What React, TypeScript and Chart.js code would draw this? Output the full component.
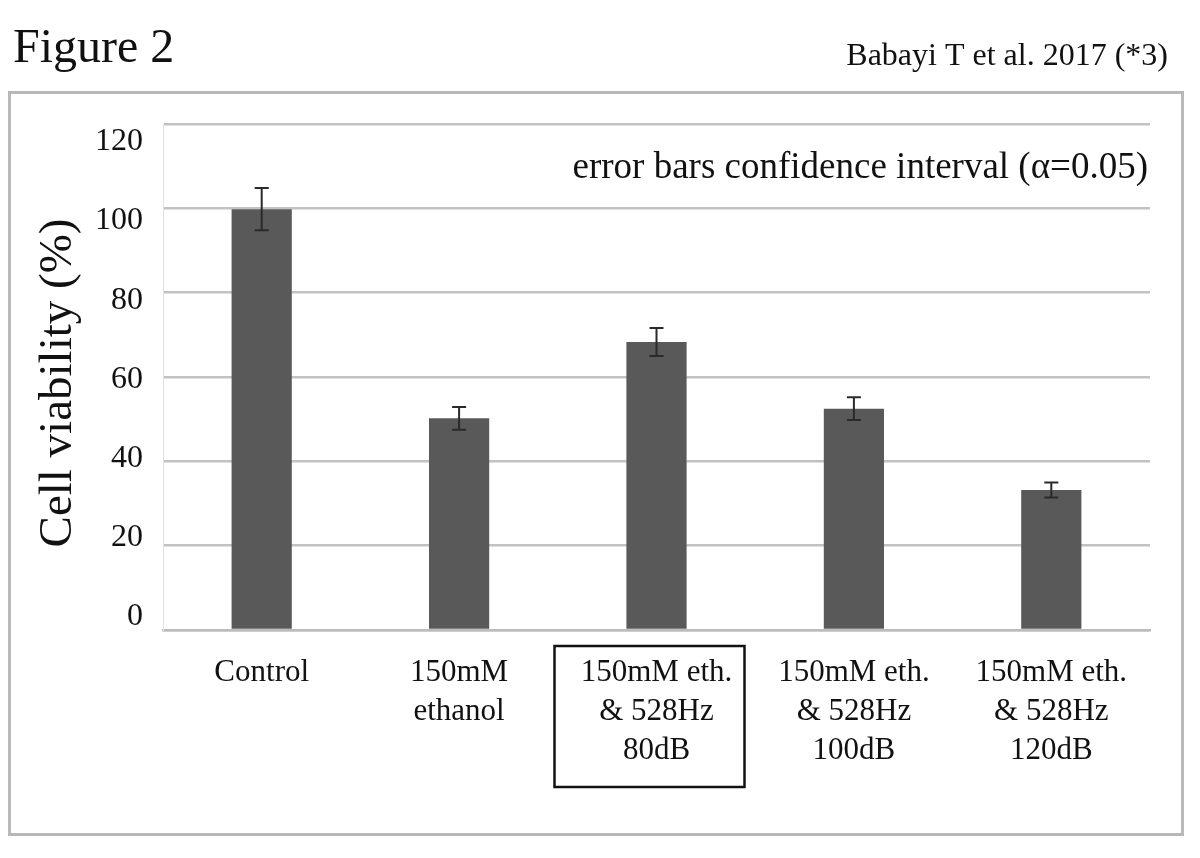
import React, { useEffect, useRef } from "react";
import { Chart, registerables } from "chart.js";

Chart.register(...registerables);

const categories: string[][] = [
  ["Control"],
  ["150mM", "ethanol"],
  ["150mM eth.", "& 528Hz", "80dB"],
  ["150mM eth.", "& 528Hz", "100dB"],
  ["150mM eth.", "& 528Hz", "120dB"],
];
const viability: number[] = [99.8, 50.2, 68.3, 52.5, 33.2];
const ciErrors: number[] = [5.0, 2.7, 3.3, 2.7, 1.8];
const yTicks: number[] = [0, 20, 40, 60, 80, 100, 120];

const FIGURE_TITLE = "Figure 2";
const CITATION = "Babayi T et al. 2017 (*3)";
const NOTE = "error bars confidence interval (\u03b1=0.05)";
const Y_TITLE = "Cell viability (%)";
const HIGHLIGHT_INDEX = 2;

const SERIF = "'Liberation Serif', 'Times New Roman', Times, serif";

const errorBarPlugin = {
  id: "errorBars",
  afterDatasetsDraw(chart: any) {
    const ctx = chart.ctx;
    const meta = chart.getDatasetMeta(0);
    const ys = chart.scales.y;
    ctx.save();
    ctx.strokeStyle = "#2a2a2a";
    ctx.lineWidth = 2;
    meta.data.forEach((el: any, i: number) => {
      const v = viability[i];
      const e = ciErrors[i];
      const top = ys.getPixelForValue(v + e);
      const bot = ys.getPixelForValue(v - e);
      const x = el.x;
      ctx.beginPath();
      ctx.moveTo(x, top);
      ctx.lineTo(x, bot);
      ctx.moveTo(x - 7, top);
      ctx.lineTo(x + 7, top);
      ctx.moveTo(x - 7, bot);
      ctx.lineTo(x + 7, bot);
      ctx.stroke();
    });
    ctx.restore();
  },
};

const decorPlugin = {
  id: "decor",
  afterDraw(chart: any) {
    const ctx = chart.ctx;
    const area = chart.chartArea;
    const xs = chart.scales.x;
    ctx.save();
    // outer frame
    ctx.strokeStyle = "#b8b8b8";
    ctx.lineWidth = 3;
    ctx.strokeRect(9.5, 92.5, 1173, 742);

    ctx.fillStyle = "#111";
    ctx.textBaseline = "alphabetic";
    ctx.font = `48px ${SERIF}`;
    ctx.textAlign = "left";
    ctx.fillText(FIGURE_TITLE, 13, 62);

    ctx.font = `32px ${SERIF}`;
    ctx.textAlign = "right";
    ctx.fillText(CITATION, 1168, 65);

    ctx.font = `37px ${SERIF}`;
    ctx.textAlign = "right";
    ctx.fillText(NOTE, area.right - 2, 178);

    // y title
    ctx.save();
    ctx.translate(71, 383);
    ctx.rotate(-Math.PI / 2);
    ctx.font = `47px ${SERIF}`;
    ctx.textAlign = "center";
    ctx.fillText(Y_TITLE, 0, 0);
    ctx.restore();

    // highlight box around one category label
    const cx = xs.getPixelForValue(HIGHLIGHT_INDEX);
    ctx.strokeStyle = "#111";
    ctx.lineWidth = 2.5;
    ctx.strokeRect(cx - 102, 646, 190, 141);
    ctx.restore();
  },
};

export default function App() {
  const ref = useRef<HTMLCanvasElement | null>(null);
  useEffect(() => {
    if (!ref.current) return;
    const chart = new Chart(ref.current, {
      type: "bar",
      data: {
        labels: categories as any,
        datasets: [
          {
            data: viability,
            backgroundColor: "#595959",
            borderWidth: 0,
            barPercentage: 0.305,
            categoryPercentage: 1,
          },
        ],
      },
      options: {
        responsive: false,
        animation: false,
        devicePixelRatio: 1,
        layout: { padding: { top: 124, right: 50, bottom: 0, left: 0 } },
        plugins: {
          legend: { display: false },
          tooltip: { enabled: false },
          title: { display: false },
        },
        scales: {
          x: {
            grid: { display: false, drawTicks: false },
            border: { display: true, color: "#bcbcbc", width: 2.5 },
            ticks: {
              color: "#111",
              padding: 23,
              maxRotation: 0,
              autoSkip: false,
              font: { family: SERIF, size: 31, lineHeight: 1.26 },
            },
            afterFit(scale: any) {
              scale.height = 228;
            },
          },
          y: {
            min: 0,
            max: 120,
            position: "left",
            ticks: { display: false, stepSize: 20 },
            grid: { color: "#c2c2c2", lineWidth: 2.5, drawTicks: false },
            border: { display: true, color: "#e2e2e2", width: 1 },
            afterFit(scale: any) {
              scale.width = 0;
            },
          },
          yl: {
            position: "left",
            min: -3.3,
            max: 124.5,
            grid: { display: false, drawTicks: false },
            border: { display: false },
            afterBuildTicks(scale: any) {
              scale.ticks = yTicks.map((v) => ({ value: v }));
            },
            ticks: {
              color: "#111",
              padding: 20,
              font: { family: SERIF, size: 32 },
            },
            afterFit(scale: any) {
              scale.width = 163;
            },
          },
        },
      },
      plugins: [errorBarPlugin, decorPlugin],
    } as any);
    return () => chart.destroy();
  }, []);
  return (
    <div style={{ position: "absolute", left: 0, top: 0, width: 1200, height: 858, background: "#fff" }}>
      <canvas ref={ref} width={1200} height={858} style={{ display: "block" }} />
    </div>
  );
}
